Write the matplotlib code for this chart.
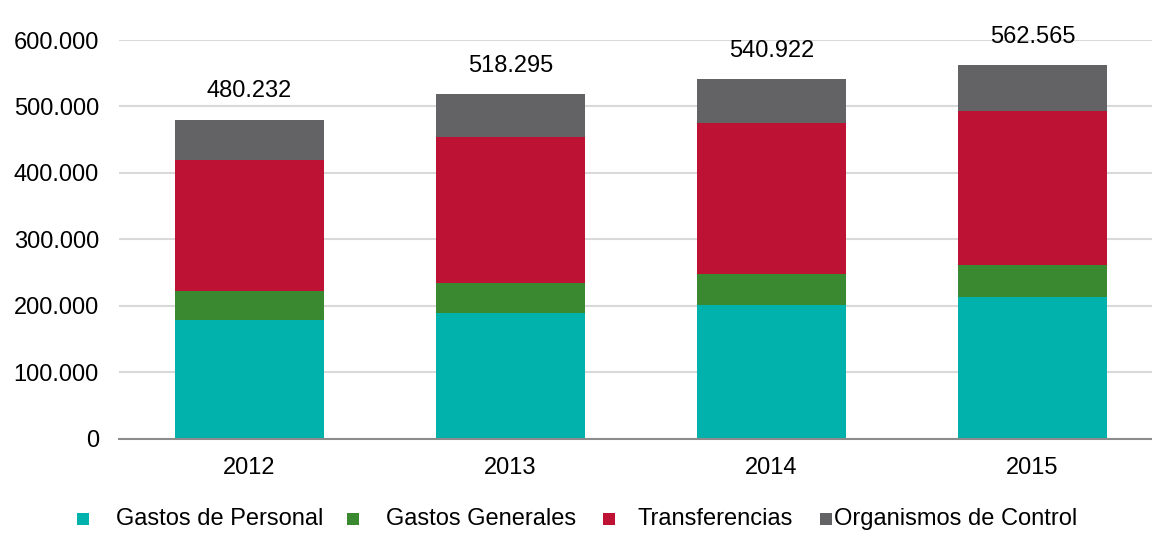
import numpy as np
import matplotlib
matplotlib.use("Agg")
import matplotlib.pyplot as plt
from matplotlib.patches import Rectangle

# Datos (miles de millones)
years = ["2012", "2013", "2014", "2015"]
series_names = ["Gastos de Personal", "Gastos Generales", "Transferencias", "Organismos de Control"]
personal = [178500, 190100, 201100, 213100]
generales = [44100, 45100, 47100, 48200]
transferencias = [196800, 218900, 226500, 232400]
totales = [480232, 518295, 540922, 562565]
# Organismos de Control = total - resto
control = [t - (p + g + r) for t, p, g, r in zip(totales, personal, generales, transferencias)]

colors = ["#00B2AB", "#3A8931", "#BE1234", "#636365"]
fsize = 17

plt.rcParams["font.family"] = ["Liberation Sans", "DejaVu Sans"]

def fmt_miles(v):
    return f"{int(round(v)):,}".replace(",", ".")

fig = plt.figure(figsize=(11.52, 5.51), dpi=100)
ax = fig.add_axes([0.1033, 0.2033, 0.8967, 0.7241])

x = np.arange(len(years))
width = 0.57
bottom = np.zeros(len(years))
for vals, col in zip([personal, generales, transferencias, control], colors):
    ax.bar(x, vals, width, bottom=bottom, color=col, edgecolor="none", zorder=3)
    bottom += np.array(vals)

# Totales encima de cada barra
for xi, tot in zip(x, totales):
    ax.annotate(fmt_miles(tot), (xi, tot), xytext=(0, 16), textcoords="offset points",
                ha="center", va="baseline", fontsize=fsize, color="#000000")

ax.set_xlim(-0.5, 3.458)
ax.set_ylim(0, 600000)
ax.set_yticks(np.arange(0, 600001, 100000))
ax.set_yticklabels([fmt_miles(v) for v in np.arange(0, 600001, 100000)])
ax.set_xticks(x)
ax.set_xticklabels(years)
ax.tick_params(axis="y", length=0, pad=14.5, labelsize=fsize)
ax.tick_params(axis="x", length=0, pad=13, labelsize=fsize)
ax.grid(axis="y", color="#D9D9D9", linewidth=1.5, zorder=0)
for s in ["top", "right", "left"]:
    ax.spines[s].set_visible(False)
ax.spines["bottom"].set_color("#8C8C8C")
ax.spines["bottom"].set_linewidth(1.5)
ax.spines["bottom"].set_zorder(4)

# Leyenda
W, H = 1152, 551
marker_x = [77, 347, 603, 820]
text_x = [116, 386, 638, 834]
ly = 519
for mx, tx, name, col in zip(marker_x, text_x, series_names, colors):
    fig.patches.append(Rectangle((mx / W, (H - ly - 6) / H), 12 / W, 12 / H,
                                 transform=fig.transFigure, facecolor=col, edgecolor="none"))
    fig.text(tx / W, (H - ly) / H, name, ha="left", va="center", fontsize=fsize)

fig.savefig("out.png", dpi=100)
